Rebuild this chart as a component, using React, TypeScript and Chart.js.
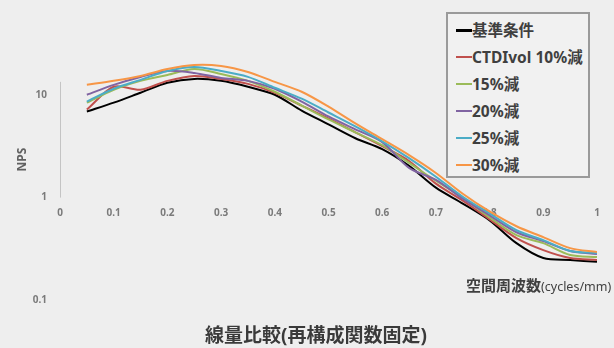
import React, { useEffect, useRef } from 'react';
import { Chart, registerables } from 'chart.js';

Chart.register(...registerables);

// spatial frequency (cycles/mm)
const frequencies = [0.05, 0.1, 0.15, 0.2, 0.25, 0.3, 0.35, 0.4, 0.45, 0.5, 0.55, 0.6, 0.65, 0.7, 0.75, 0.8, 0.85, 0.9, 0.95, 1.0];

const seriesNames = ['基準条件', 'CTDIvol 10%減', '15%減', '20%減', '25%減', '30%減'];
const seriesColors = ['#000000', '#c0504d', '#9bbb59', '#8064a2', '#4bacc6', '#f79646'];

const baseline = [6.93, 8.46, 10.57, 13.21, 14.43, 13.81, 12.08, 10.11, 7.08, 5.19, 3.8, 2.97, 2.04, 1.25, 0.875, 0.6, 0.359, 0.257, 0.246, 0.236];
const dose10 = [7.24, 12.08, 11.3, 13.81, 15.43, 14.43, 12.91, 10.57, 7.92, 5.93, 4.34, 3.18, 2.28, 1.37, 0.935, 0.613, 0.402, 0.307, 0.257, 0.246];
const dose15 = [8.46, 11.3, 13.81, 15.78, 18.03, 16.13, 13.81, 10.81, 7.92, 5.8, 4.34, 3.25, 2.18, 1.46, 1.0, 0.641, 0.43, 0.359, 0.275, 0.263];
const dose20 = [10.11, 12.63, 15.09, 17.25, 16.5, 14.76, 13.81, 11.56, 8.66, 6.2, 4.64, 3.48, 1.95, 1.49, 0.978, 0.67, 0.459, 0.376, 0.301, 0.281];
const dose25 = [8.66, 11.56, 14.12, 17.25, 18.86, 17.25, 15.09, 11.82, 9.25, 6.78, 4.96, 3.55, 2.43, 1.6, 1.02, 0.7, 0.48, 0.384, 0.301, 0.288];
const dose30 = [12.63, 13.81, 15.43, 18.03, 19.71, 19.28, 16.87, 13.5, 10.81, 7.74, 5.3, 3.72, 2.6, 1.74, 1.09, 0.732, 0.525, 0.411, 0.321, 0.294];

const seriesValues = [baseline, dose10, dose15, dose20, dose25, dose30];

const xTickLabels = ['0', '0.1', '0.2', '0.3', '0.4', '0.5', '0.6', '0.7', '0.8', '0.9', '1'];
const yTickValues = [0.1, 1, 10];
const yMin = 0.1;
const yMax = 55.5;
const axisLineTop = 13.5;

const chartTitle = '線量比較(再構成関数固定)';
const xTitleMain = '空間周波数';
const xTitleUnit = '(cycles/mm)';
const yTitle = 'NPS';

const FONT = '"Noto Sans", "Noto Sans CJK JP", sans-serif';

const axisLinePlugin = {
  id: 'partialAxisLine',
  beforeDatasetsDraw(chart: any) {
    const { ctx, chartArea } = chart;
    const y = chart.scales.y;
    const x = Math.round(chartArea.left) + 0.5;
    ctx.save();
    ctx.strokeStyle = '#c4c4c4';
    ctx.lineWidth = 1;
    ctx.beginPath();
    ctx.moveTo(x, y.getPixelForValue(1));
    ctx.lineTo(x, y.getPixelForValue(axisLineTop));
    ctx.stroke();
    ctx.restore();
  },
};

export default function App() {
  const canvasRef = useRef<HTMLCanvasElement | null>(null);

  useEffect(() => {
    document.body.style.margin = '0';
    const canvas = canvasRef.current;
    if (!canvas) return;
    const n = seriesValues.length;
    const chart = new Chart(canvas, {
      type: 'line',
      data: {
        datasets: seriesValues.map((vals, i) => ({
          label: seriesNames[i],
          data: frequencies.map((f, k) => ({ x: f, y: vals[k] })),
          borderColor: seriesColors[i],
          backgroundColor: seriesColors[i],
          borderWidth: 2,
          pointRadius: 0,
          tension: 0.3,
          fill: false,
          order: n - 1 - i,
        })),
      },
      options: {
        responsive: false,
        animation: false,
        layout: { padding: { left: 0, right: 17, top: 16, bottom: 48 } },
        plugins: {
          legend: { display: false },
          title: { display: false },
          tooltip: { enabled: false },
        },
        scales: {
          x: {
            type: 'linear',
            min: 0,
            max: 1,
            position: { y: 1 } as any,
            grid: { display: false, drawTicks: false },
            border: { display: false },
            afterBuildTicks: (scale: any) => {
              scale.ticks = xTickLabels.map((l) => ({ value: parseFloat(l) }));
            },
            ticks: {
              autoSkip: false,
              maxRotation: 0,
              padding: 10,
              color: '#7a7a7a',
              font: { family: FONT, size: 10, weight: 'bold' },
              callback: (_v: any, idx: number) => xTickLabels[idx],
            },
          },
          y: {
            type: 'logarithmic',
            min: yMin,
            max: yMax,
            position: 'left',
            grid: { display: false, drawTicks: false },
            border: { display: false },
            afterFit: (scale: any) => {
              scale.width = 60;
            },
            afterBuildTicks: (scale: any) => {
              scale.ticks = yTickValues.map((v) => ({ value: v }));
            },
            ticks: {
              padding: 13,
              color: '#7a7a7a',
              font: { family: FONT, size: 10, weight: 'bold' },
              callback: (v: any) => String(v),
            },
            title: {
              display: true,
              text: yTitle,
              color: '#606060',
              font: { family: FONT, size: 12, weight: 'bold' },
              padding: { top: 15, bottom: 0 },
            },
          },
        },
      },
      plugins: [axisLinePlugin],
    } as any);
    return () => chart.destroy();
  }, []);

  const rowTop = 28;
  const rowGap = 27;

  return (
    <div
      style={{
        position: 'fixed',
        left: 0,
        top: 0,
        width: 614,
        height: 348,
        background: '#eeeeee',
        overflow: 'hidden',
        fontFamily: FONT,
      }}
    >
      <canvas ref={canvasRef} width={614} height={348} style={{ position: 'absolute', left: 0, top: 0 }} />
      <div
        style={{
          position: 'absolute',
          left: 446,
          top: 12,
          width: 144,
          height: 166,
          border: '2px solid #9a9a9a',
          boxSizing: 'border-box',
          background: '#f1f1f1',
        }}
      >
        {seriesNames.map((name, i) => {
          const cy = rowTop + i * rowGap - 12;
          return (
            <div key={name} style={{ position: 'absolute', left: 0, top: cy - 10, height: 20, width: 142 }}>
              <div
                style={{
                  position: 'absolute',
                  left: 8,
                  top: i === 0 ? 8.5 : 9,
                  width: 16,
                  height: i === 0 ? 3 : 2,
                  background: seriesColors[i],
                }}
              />
              <div
                style={{
                  position: 'absolute',
                  left: 24,
                  top: 0,
                  lineHeight: '20px',
                  fontSize: 15.5,
                  fontWeight: 'bold',
                  color: '#3f3f3f',
                  whiteSpace: 'nowrap',
                }}
              >
                {name}
              </div>
            </div>
          );
        })}
      </div>
      <div
        style={{
          position: 'absolute',
          left: 466,
          top: 275,
          lineHeight: '20px',
          whiteSpace: 'nowrap',
          color: '#404040',
        }}
      >
        <span style={{ fontSize: 15, fontWeight: 'bold' }}>{xTitleMain}</span>
        <span style={{ fontSize: 12.5 }}>{xTitleUnit}</span>
      </div>
      <div
        style={{
          position: 'absolute',
          left: 205,
          top: 323,
          lineHeight: '24px',
          fontSize: 19,
          fontWeight: 'bold',
          color: '#3a3a3a',
          whiteSpace: 'nowrap',
        }}
      >
        {chartTitle}
      </div>
    </div>
  );
}
